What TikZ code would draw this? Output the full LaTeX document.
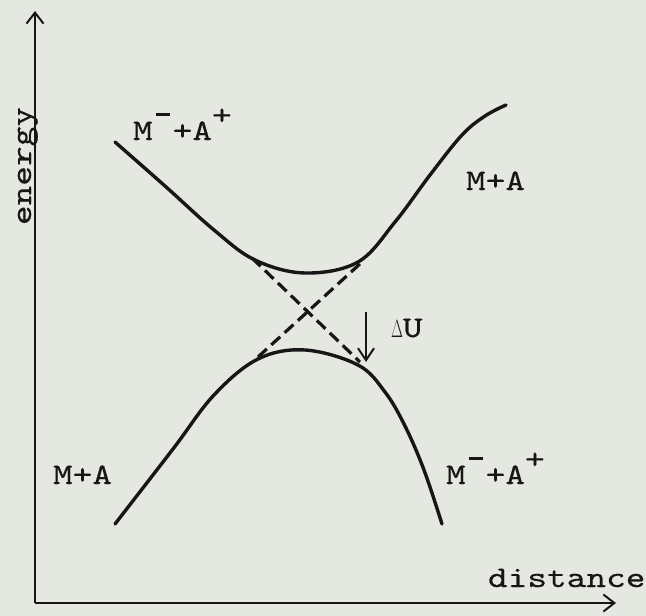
\documentclass[tikz,border=0pt]{standalone}
\usepackage{fontspec}
\usepackage{graphicx}
\newfontfamily\twfont[Extension=.otf,FakeStretch=1.25,FakeBold=0.4]{lmmono10-regular}
\usetikzlibrary{arrows.meta}
\definecolor{paper}{RGB}{228,232,224}
\definecolor{ink}{RGB}{22,22,22}
\newcommand\supminus{\makebox[20pt]{\rule[24pt]{14pt}{2.6pt}}}
\newcommand\supplus{\raisebox{15.5pt}{+}}
\newcommand\tDelta{{\fontsize{30}{32}\selectfont\scalebox{0.62}[1]{$\Delta$}}}
\begin{document}
\begin{tikzpicture}[x=1pt,y=-1pt,
  curve/.style={draw=ink,line width=3.4pt,line cap=round},
  axisline/.style={draw=ink,line width=2.2pt,-{Straight Barb[length=11pt,width=17pt,line width=2pt]}},
  diab/.style={draw=ink,line width=3.2pt,dash pattern=on 12pt off 6pt},
  lbl/.style={inner sep=0pt,outer sep=0pt,text=ink,font=\twfont\fontsize{30}{34}\selectfont},
  gap/.style={draw=ink,line width=2pt,-{Straight Barb[length=12pt,width=16pt,line width=2pt]}}]
\fill[paper] (0,0) rectangle (646,616);
\useasboundingbox (0,0) rectangle (646,616);
% axes
\coordinate (O) at (35,603);
\coordinate (ytip) at (35,11);
\coordinate (xtip) at (616,603);
\draw[axisline] (O) -- (ytip);
\draw[axisline] (O) -- (xtip);
% adiabatic curves
\draw[curve] plot[smooth,tension=0.6] coordinates {(115,142) (165,186) (214,230) (255,260) (305,273) (358,262) (395,222) (430,175) (462,135) (485,116) (506,105)};
\draw[curve] plot[smooth,tension=0.6] coordinates {(115,524) (173,449) (214,395) (258,359) (305,350) (358,365) (385,392) (405,426) (424,470) (442,524)};
% diabatic dashed crossing
\coordinate (uL) at (252,258);
\coordinate (lR) at (360,362);
\coordinate (lL) at (258,357);
\coordinate (uR) at (362,262);
\draw[diab] (uL) -- (lR);
\draw[diab] (lL) -- (uR);
% Delta U arrow
\coordinate (ga) at (366,312);
\coordinate (gb) at (366,362);
\draw[gap] (ga) -- (gb);
% labels
\node[lbl,anchor=base west] (ionTop) at (133,140) {M\supminus+A\supplus};
\node[lbl,anchor=base west] (covTop) at (466,190) {M+A};
\node[lbl,anchor=base west] (covBot) at (53,484) {M+A};
\node[lbl,anchor=base west] (ionBot) at (446,484) {M\supminus+A\supplus};
\node[lbl,anchor=base west] (dU) at (391,337) {\tDelta U};
\node[lbl,anchor=base west] (dist) at (488,587) {distance};
\node[lbl,anchor=base,rotate=90] (en) at (31,166) {energy};
\end{tikzpicture}
\end{document}
